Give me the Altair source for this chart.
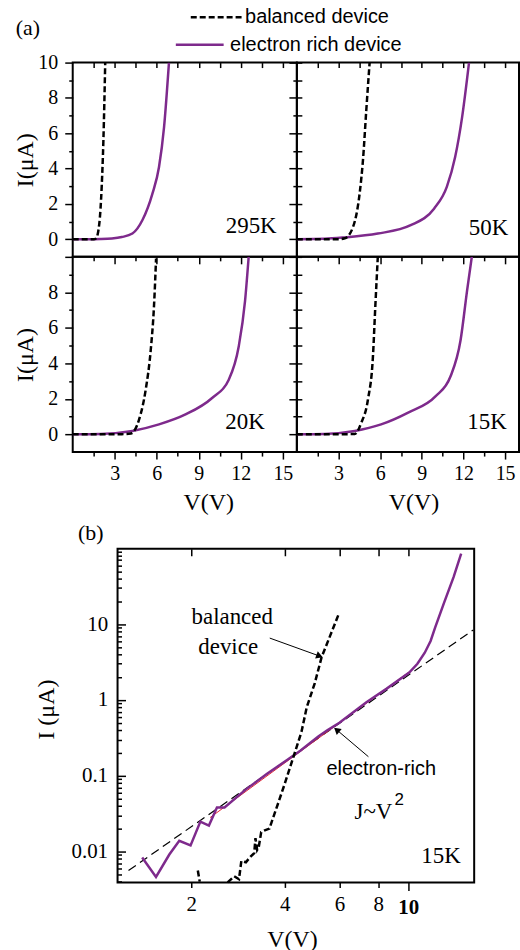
import altair as alt
import pandas as pd

PURPLE = "#7E2A8C"
SERIF = "Liberation Serif"
SANS = "Liberation Sans"

# ---------------- panel (a) data : V (volts), I (uA) ----------------
t295_bal_V = [0, 0.5, 1.0, 1.5, 1.66, 1.9, 2.07, 2.19, 2.32]
t295_bal_I = [0, 0, 0, 0, 0.04, 0.9, 3.0, 5.6, 10]
t295_er_V = [0, 1, 2, 2.8, 3.5, 4.26, 4.97, 5.69, 6.16, 6.52, 6.87]
t295_er_I = [0, 0, 0.01, 0.04, 0.12, 0.32, 1.07, 2.58, 4.09, 6.35, 10]

t50_bal_V = [0, 1, 2, 3, 3.45, 4.05, 4.52, 4.76, 5.0, 5.24]
t50_bal_I = [0, 0, 0, 0, 0.05, 0.70, 2.58, 4.46, 7.3, 10]
t50_er_V = [0, 2, 3.45, 5.83, 8.2, 9.88, 10.8, 11.4, 11.9, 12.4]
t50_er_I = [0, 0.02, 0.1, 0.32, 0.79, 1.73, 2.96, 4.65, 6.9, 10]

t20_bal_V = [0, 2, 3.5, 4.15, 4.74, 5.21, 5.57, 5.8, 5.95]
t20_bal_I = [0, 0, 0.01, 0.05, 0.84, 2.52, 4.76, 7.2, 9.9]
t20_er_V = [0, 2, 4.26, 6.16, 8.05, 9.95, 11.14, 11.85, 12.3, 12.56]
t20_er_I = [0, 0.02, 0.19, 0.56, 1.12, 2.05, 3.08, 4.95, 7.5, 10]

t15_bal_V = [0, 2, 3.5, 4.17, 4.64, 5.12, 5.48, 5.65, 5.83]
t15_bal_I = [0, 0, 0.01, 0.02, 0.65, 1.96, 4.39, 7.2, 10]
t15_er_V = [0, 2, 4.17, 6.07, 7.98, 10.0, 11.07, 11.79, 12.26, 12.6]
t15_er_I = [0, 0.02, 0.19, 0.56, 1.21, 2.15, 3.27, 5.3, 8.1, 10]

temps = ["295K", "50K", "20K", "15K"]
temp_V = [12.74, 13.8, 12.3, 13.7]
temp_I = [0.75, 0.63, 0.71, 0.71]

# ---------------- panel (b) data : 15K log-log ----------------
b_er_V = [1.39, 1.54, 1.70, 1.83, 1.99, 2.14, 2.28, 2.42, 2.56, 3.0, 3.5, 4.06, 4.5,
          5.13, 5.5, 6.0, 7.33, 8.5, 10.07, 10.7, 11.3, 11.8, 12.2, 13.06, 14.0, 14.8]
b_er_I = [0.0083, 0.0046, 0.0091, 0.0138, 0.012, 0.0248, 0.022, 0.038, 0.038, 0.066,
          0.105, 0.16, 0.215, 0.33, 0.4, 0.5, 0.93, 1.4, 2.3, 3.0, 4.2, 6.0, 9.0, 19.5,
          42, 85]
# balanced device: visible pieces (the curve leaves the frame between them)
b_bal_V = [2.10, 2.13, 2.62, 2.75, 2.85, 2.90, 3.0, 3.1, 3.19, 3.22, 3.26, 3.30,
           3.36, 3.45, 3.57, 3.8, 4.0, 4.32, 4.53, 4.71, 5.0, 5.26, 5.6, 5.97]
b_bal_I = [0.0056, 0.0040, 0.0039, 0.0047, 0.0043, 0.0075, 0.0072, 0.0085, 0.0095,
           0.015, 0.0105, 0.0115, 0.018, 0.019, 0.020, 0.042, 0.078, 0.207, 0.38, 0.8,
           1.67, 3.68, 7.0, 13.6]
b_bal_seg = [0, 0] + [1] * 22
fit_V = [2.3, 10.0]
fit_I = [0.028, 2.3]
guide_V = [1.256, 16.2]
guide_I = [0.0056, 8.4]
frame_V = [1.158, 16.3]     # axis range of panel (b)
frame_I = [0.0039, 99]

# ticks
XA_TICKS = [1.5, 3, 4.5, 6, 7.5, 9, 10.5, 12, 13.5, 15]
YA_TICKS = [0, 1, 2, 3, 4, 5, 6, 7, 8, 9, 10]
XB_TICKS = [2, 4, 6, 8, 10]
YB_TICKS = [m * 10.0 ** e for e in [-3, -2, -1, 0, 1] for m in range(1, 10)
            if 0.0039 < m * 10.0 ** e < 99]

W_L, W_R, H_T, H_B = 225, 223, 195, 196
# panel (b): frame 358 x 335, 45 px right of and 97 px below the (a) grid
GAP_X, GAP_Y, WB, HB = 45, 97, 358, 335


def panel_a(bV, bI, eV, eI, temp, tV, tI, w, h, left, top, legend=False):
    bal = pd.DataFrame({"V": bV, "I": bI, "s": "balanced device"})
    er = pd.DataFrame({"V": eV, "I": eI, "s": "electron rich device"})
    xscale = alt.Scale(domain=[0, 16], nice=False, zero=False)
    yscale = alt.Scale(domain=[-1, 10], nice=False, zero=False)
    xkw = dict(values=XA_TICKS,
               tickSize={"condition": {"test": "datum.value % 3 == 0", "value": 7}, "value": 4},
               tickWidth=1.5, labelPadding=5, domain=False,
               labelExpr="datum.value % 3 == 0 ? datum.label : ''")
    if top:
        xkw.update(labels=False, title=None, grid=True, gridDash=[5, 3000],
                   gridColor="black", gridWidth=1.5, gridOpacity=1)
    else:
        xkw.update(title="V(V)", titleX=(136 if left else 117), titleY=51,
                   titleAlign="center", titleBaseline="middle", grid=False)
    ykw = dict(values=YA_TICKS,
               tickSize={"condition": {"test": "datum.value % 2 == 0", "value": 8}, "value": 4},
               tickWidth=1.5, labelPadding=7, domain=False)
    if left:
        ykw.update(title="I(μA)", titleX=-47, titleY=h / 2, titleAngle=-90,
                   titleAlign="center", titleBaseline="middle", grid=False,
                   labelExpr=("datum.value % 2 == 0 ? datum.label : ''" if top else
                              "datum.value % 2 == 0 && datum.value < 10 ? datum.label : ''"))
    else:
        ykw.update(labels=False, title=None, grid=True, gridDash=[5, 3000],
                   gridColor="black", gridWidth=1.5, gridOpacity=1)
    X = alt.X("V:Q", scale=xscale, axis=alt.Axis(**xkw))
    Y = alt.Y("I:Q", scale=yscale, axis=alt.Axis(**ykw))

    if legend:
        ecol = alt.Color("s:N", scale=alt.Scale(domain=["electron rich device"], range=[PURPLE]),
                         legend=alt.Legend(orient="none", legendX=116, legendY=-29.5, title=None,
                                           symbolType="M-2.4,0H2.4", symbolSize=400,
                                           symbolStrokeWidth=2.5, labelFont=SANS, labelFontSize=20,
                                           labelOffset=19, padding=0, labelColor="black",
                                           labelLimit=400))
        bdash = alt.StrokeDash("s:N", scale=alt.Scale(domain=["balanced device"], range=[[6, 3]]),
                               legend=alt.Legend(orient="none", legendX=132.5, legendY=-57, title=None,
                                                 symbolType="M-2.55,0H2.55", symbolSize=400,
                                                 symbolStrokeWidth=2.5, symbolStrokeColor="black",
                                                 labelFont=SANS, labelFontSize=20, labelOffset=17.5,
                                                 padding=0, labelColor="black", labelLimit=400))
    else:
        ecol = alt.value(PURPLE)
        bdash = alt.value([6, 3])

    er_line = alt.Chart(er).mark_line(strokeWidth=2.5, clip=True, interpolate="monotone").encode(
        x=X, y=Y, color=ecol)
    bal_line = alt.Chart(bal).mark_line(strokeWidth=2.5, clip=True, color="black",
                                        interpolate="monotone").encode(x=X, y=Y, strokeDash=bdash)
    txt = alt.Chart(pd.DataFrame({"V": [tV], "I": [tI], "t": [temp]})).mark_text(
        font=SERIF, fontSize=23, align="center", baseline="middle", color="black").encode(
        x=X, y=Y, text="t:N")
    layers = [er_line, bal_line, txt]
    if legend:
        lab = alt.Chart(pd.DataFrame({"t": ["(a)"]})).mark_text(
            font=SERIF, fontSize=22, align="center", baseline="middle", color="black").encode(
            x=alt.value(-45), y=alt.value(-35), text="t:N")
        layers.append(lab)
    return alt.layer(*layers).properties(width=w, height=h)


TL = panel_a(t295_bal_V, t295_bal_I, t295_er_V, t295_er_I, temps[0], temp_V[0], temp_I[0],
             W_L, H_T, True, True, legend=True)
TR = panel_a(t50_bal_V, t50_bal_I, t50_er_V, t50_er_I, temps[1], temp_V[1], temp_I[1],
             W_R, H_T, False, True)
BL = panel_a(t20_bal_V, t20_bal_I, t20_er_V, t20_er_I, temps[2], temp_V[2], temp_I[2],
             W_L, H_B, True, False)
BR = panel_a(t15_bal_V, t15_bal_I, t15_er_V, t15_er_I, temps[3], temp_V[3], temp_I[3],
             W_R, H_B, False, False)

# ---------------- panel (b) ----------------
# the view is declared W_L wide (so the grid columns stay put); explicit scale ranges put
# the frame GAP_X px right of the view's left edge and GAP_Y px below its top
DECADE = "abs(log(datum.value)/LN10 - round(log(datum.value)/LN10)) < 0.001"
xs_b = alt.Scale(type="log", domain=frame_V, range=[GAP_X, GAP_X + WB], nice=False)
ys_b = alt.Scale(type="log", domain=frame_I, range=[GAP_Y + HB, GAP_Y], nice=False, clamp=True)
XB = alt.X("V:Q", scale=xs_b, axis=alt.Axis(
    values=XB_TICKS, format="~g", domain=False,
    tickSize={"condition": {"test": "datum.value == 10", "value": 8}, "value": 5},
    labelFontWeight={"condition": {"test": "datum.value == 10", "value": "bold"},
                     "value": "normal"},
    tickWidth=1.5, labelPadding=6, labelFontSize=21,
    grid=True, gridDash=[0, GAP_Y, 7, 5000], gridColor="black", gridWidth=1.5, gridOpacity=1,
    title="V(V)", titleX=GAP_X + 175, titleY=57, titleAlign="center", titleBaseline="middle"))
# the grid starts at the (offset) axis, so a short first dash gives inward ticks
YB = alt.Y("I:Q", scale=ys_b, axis=alt.Axis(
    values=YB_TICKS, format="~g", domain=False, ticks=False, labelPadding=10, labelFontSize=21,
    offset=-GAP_X,
    labelExpr="(" + DECADE + " && datum.value > 0.005) ? datum.label : ''",
    grid=True, gridColor="black", gridWidth=1.5, gridOpacity=1,
    gridDash={"condition": {"test": DECADE, "value": [8, 5000]},
              "value": [4, 5000]},
    title="I (μA)", titleX=-71, titleY=GAP_Y + 161, titleAngle=-90,
    titleAlign="center", titleBaseline="middle"))

frame = alt.Chart(pd.DataFrame({"V": [frame_V[0]], "V2": [frame_V[1]],
                                "I": [frame_I[0]], "I2": [frame_I[1]]})).mark_rect(
    fill=None, stroke="black", strokeWidth=2).encode(x=XB, x2="V2:Q", y=YB, y2="I2:Q")

guide = alt.Chart(pd.DataFrame({"V": guide_V, "I": guide_I})).mark_line(
    color="black", strokeWidth=1.2, strokeDash=[9, 5]).encode(x=XB, y=YB)
er_b = alt.Chart(pd.DataFrame({"V": b_er_V, "I": b_er_I})).mark_line(
    color=PURPLE, strokeWidth=2.5).encode(x=XB, y=YB)
fit_b = alt.Chart(pd.DataFrame({"V": fit_V, "I": fit_I})).mark_line(
    color="#E8242C", strokeWidth=1).encode(x=XB, y=YB)
bal_b = alt.Chart(pd.DataFrame({"V": b_bal_V, "I": b_bal_I, "seg": b_bal_seg})).mark_line(
    color="black", strokeWidth=2.5, strokeDash=[6, 3]).encode(x=XB, y=YB, detail="seg:N")

serif_txt = pd.DataFrame({"V": [2.71, 2.63, 7.72, 12.75], "I": [12.4, 4.98, 0.0336, 0.0086],
                          "t": ["balanced", "device", "J~V", "15K"]})
sans_txt = pd.DataFrame({"V": [8.18, 9.35], "I": [0.124, 0.0483], "t": ["electron-rich", "2"],
                         "fs": [20, 17]})
t_serif = alt.Chart(serif_txt).mark_text(font=SERIF, fontSize=23, align="center",
                                         baseline="middle", color="black").encode(
    x=XB, y=YB, text="t:N")
t_sans = alt.Chart(sans_txt).mark_text(font=SANS, align="center", baseline="middle",
                                       color="black").encode(
    x=XB, y=YB, text="t:N", size=alt.Size("fs:Q", scale=None, legend=None))

arrows = pd.DataFrame({"V": [3.58, 7.44], "I": [6.55, 0.178], "V2": [5.18, 5.88],
                       "I2": [3.79, 0.403], "ang": [20, 220]})
shaft = alt.Chart(arrows).mark_rule(color="black", strokeWidth=1).encode(
    x=XB, y=YB, x2="V2:Q", y2="I2:Q")
heads = alt.Chart(arrows).mark_point(shape="triangle-right", filled=True, color="black",
                                     size=60, opacity=1).encode(
    x=alt.X("V2:Q", scale=xs_b), y=alt.Y("I2:Q", scale=ys_b),
    angle=alt.Angle("ang:Q", scale=None))
lab_b = alt.Chart(pd.DataFrame({"t": ["(b)"]})).mark_text(
    font=SERIF, fontSize=22, align="center", baseline="middle", color="black").encode(
    x=alt.value(18), y=alt.value(81), text="t:N")

B = alt.layer(frame, guide, fit_b, er_b, bal_b, t_serif, t_sans, shaft, heads,
              lab_b).properties(width=W_L, height=GAP_Y + HB,
                                view=alt.ViewBackground(stroke=None))

chart = alt.concat(
    TL, TR, BL, BR, B,
    columns=2, spacing=0, bounds="flush",
).properties(
    padding={"left": 13, "top": 4, "right": 0, "bottom": 0},
    background="white",
).configure_view(stroke="black", strokeWidth=2).configure_axis(
    labelFont=SERIF, titleFont=SERIF, labelFontSize=20, titleFontSize=24,
    titleFontWeight="normal", labelColor="black", titleColor="black", tickColor="black",
    domainColor="black",
)

chart.save("out.html", embed_options={"renderer": "svg", "actions": False})
